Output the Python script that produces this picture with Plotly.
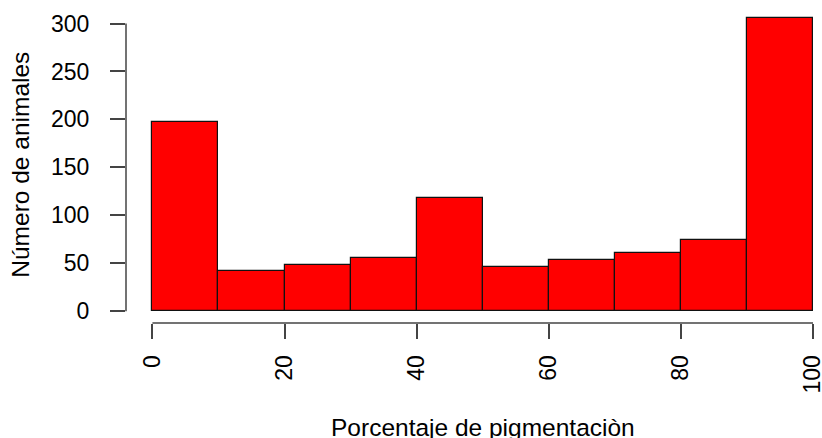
import plotly.graph_objects as go

bin_starts = [0, 10, 20, 30, 40, 50, 60, 70, 80, 90]
counts = [197, 42, 48, 56, 118, 46, 53, 61, 74, 306]
bin_width = 10
x_ticks = [0, 20, 40, 60, 80, 100]
y_ticks = [0, 50, 100, 150, 200, 250, 300]
x_title = "Porcentaje de pigmentaciòn"
y_title = "Número de animales"

centers = [s + bin_width / 2 for s in bin_starts]

FONT = "Liberation Sans, Arial, sans-serif"
FS = 23
FS_TITLE = 24.5
AX = "#444444"

fig = go.Figure()
fig.add_trace(go.Bar(
    x=centers, y=counts, width=[bin_width] * len(counts),
    marker=dict(color="#FF0000", line=dict(color="#111111", width=1.2)),
    hoverinfo="skip",
))

fig.update_layout(
    width=822, height=438,
    margin=dict(l=126, r=0, t=6, b=115, pad=0, autoexpand=False),
    paper_bgcolor="white", plot_bgcolor="white",
    showlegend=False, bargap=0,
    font=dict(family=FONT, size=FS, color="#000000"),
    xaxis=dict(
        range=[-4, 101.36], showgrid=False, zeroline=False, showline=False,
        automargin=False, ticklabeloverflow="allow",
        tickmode="array", tickvals=x_ticks, ticktext=[str(v) for v in x_ticks],
        ticks="outside", ticklen=15, tickwidth=1.5, tickcolor=AX,
        tickangle=-90, ticklabelstandoff=7,
        tickfont=dict(family=FONT, size=FS, color="#000000"),
    ),
    yaxis=dict(
        range=[-12.24, 318.24], showgrid=False, zeroline=False, showline=False,
        automargin=False, ticklabeloverflow="allow",
        tickmode="array", tickvals=y_ticks, ticktext=[str(v) for v in y_ticks],
        ticks="outside", ticklen=15, tickwidth=1.5, tickcolor=AX,
        ticklabelstandoff=16,
        tickfont=dict(family=FONT, size=FS, color="#000000"),
    ),
    shapes=[
        dict(type="line", xref="x", yref="paper", x0=x_ticks[0], x1=x_ticks[-1], y0=0, y1=0,
             line=dict(color=AX, width=1.5)),
        dict(type="line", xref="paper", yref="y", x0=0, x1=0, y0=y_ticks[0], y1=y_ticks[-1],
             line=dict(color=AX, width=1.5)),
    ],
    annotations=[
        dict(text=x_title, xref="x", yref="paper", x=50, y=-0.28, xanchor="center",
             yanchor="top", showarrow=False, font=dict(family=FONT, size=FS_TITLE, color="#000000")),
        dict(text=y_title, xref="paper", yref="paper", x=-0.152, y=0.5, xanchor="center",
             yanchor="middle", textangle=-90, showarrow=False,
             font=dict(family=FONT, size=FS_TITLE, color="#000000")),
    ],
)

fig.write_html(
    "out.html",
    config={"displayModeBar": False},
    post_script="document.body.style.margin='0';document.body.style.overflow='hidden';",
)
